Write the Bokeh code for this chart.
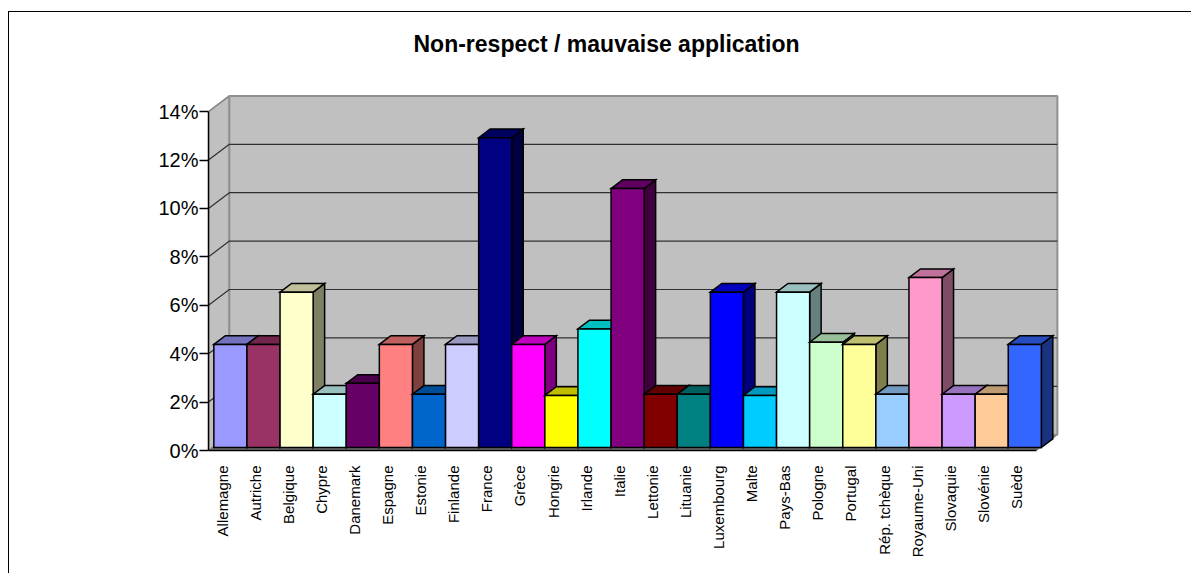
from math import pi
from bokeh.plotting import figure
from bokeh.models import FixedTicker, Range1d, Title
from bokeh.embed import file_html
from bokeh.resources import INLINE

title_text = "Non-respect / mauvaise application"
categories = ["Allemagne", "Autriche", "Belgique", "Chypre", "Danemark", "Espagne", "Estonie",
              "Finlande", "France", "Grèce", "Hongrie", "Irlande", "Italie", "Lettonie", "Lituanie",
              "Luxembourg", "Malte", "Pays-Bas", "Pologne", "Portugal", "Rép. tchèque",
              "Royaume-Uni", "Slovaquie", "Slovénie", "Suède"]
values = [4.26, 4.26, 6.42, 2.2, 2.65, 4.26, 2.2, 4.26, 12.8, 4.26, 2.15, 4.9, 10.7, 2.2, 2.2,
          6.42, 2.15, 6.42, 4.35, 4.26, 2.2, 7.02, 2.2, 2.2, 4.26]
palette = ["#9999FF", "#993366", "#FFFFCC", "#CCFFFF", "#660066", "#FF8080", "#0066CC", "#CCCCFF",
           "#000080", "#FF00FF", "#FFFF00", "#00FFFF", "#800080", "#800000", "#008080", "#0000FF",
           "#00CCFF", "#CCFFFF", "#CCFFCC", "#FFFF99", "#99CCFF", "#FF99CC", "#CC99FF", "#FFCC99",
           "#3366FF"]
y_ticks = [0, 2, 4, 6, 8, 10, 12, 14]
y_labels = ["0%", "2%", "4%", "6%", "8%", "10%", "12%", "14%"]

FONT = "Liberation Sans"
X0, X1 = -0.6616, 24.354      # floor front edge
WDX, WDY = 0.63, 0.653        # wall depth
BDX, BDY = 0.347, 0.36        # bar depth
BASE = 0.124                  # bar base above the floor front edge
HALF = 0.5


def shade(color, k):
    r, g, b = (int(color[i:i + 2], 16) for i in (1, 3, 5))
    return "#%02X%02X%02X" % (int(r * k), int(g * k), int(b * k))


p = figure(width=1183, height=562, output_backend="svg", toolbar_location=None,
           x_range=Range1d(X0, 29.036), y_range=Range1d(0, 16.198),
           min_border_left=199, min_border_right=0, min_border_top=46, min_border_bottom=124,
           frame_width=983, frame_height=392, background_fill_color="white",
           border_fill_color="white", outline_line_color=None,
           margin=(11, 0, 0, 8),
           styles={"border-left": "1px solid black", "border-top": "1px solid black"})
p.grid.visible = False

p.add_layout(Title(text=title_text, text_font=FONT, text_font_size="23px", text_font_style="bold",
                   text_color="black", align="left", offset=205, standoff=4), "above")

top = y_ticks[-1]
# floor, side wall and back wall
p.patch([X0, X1, X1 + WDX, X0 + WDX], [0, 0, WDY, WDY], fill_color="#707070", line_color="#707070", line_width=1)
p.patch([X0, X0 + WDX, X0 + WDX, X0], [0, WDY, top + WDY, top], fill_color="#C0C0C0", line_color="#808080", line_width=1.5)
p.patch([X0 + WDX, X1 + WDX, X1 + WDX, X0 + WDX], [WDY, WDY, top + WDY, top + WDY],
        fill_color="#C0C0C0", line_color="#909090", line_width=2)

# gridlines
for t in y_ticks[1:-1]:
    p.line([X0, X0 + WDX, X1 + WDX], [t, t + WDY, t + WDY], line_color="#303030", line_width=1.2)

# bars, each drawn over its left neighbour
xs, ys, fills = [], [], []
for i, (v, c) in enumerate(zip(values, palette)):
    l, r, b, h = i - HALF, i + HALF, BASE, BASE + v
    xs += [[r, r + BDX, r + BDX, r], [l, l + BDX, r + BDX, r], [l, r, r, l]]
    ys += [[b, b + BDY, h + BDY, h], [h, h + BDY, h + BDY, h], [b, b, h, h]]
    fills += [shade(c, 0.5), shade(c, 0.75), c]
p.patches(xs, ys, fill_color=fills, line_color="black", line_width=1.5, line_join="miter")

yaxis = p.yaxis[0]
yaxis.ticker = FixedTicker(ticks=y_ticks)
yaxis.major_label_overrides = dict(zip(y_ticks, y_labels))
yaxis.bounds = (0, top)
yaxis.axis_line_color = "black"
yaxis.axis_line_width = 1.5
yaxis.major_tick_line_color = "black"
yaxis.major_tick_line_width = 1.5
yaxis.major_tick_out = 9
yaxis.major_tick_in = 0
yaxis.minor_tick_line_color = None
yaxis.major_label_standoff = 1
yaxis.major_label_text_font = FONT
yaxis.major_label_text_font_size = "20px"
yaxis.major_label_text_color = "black"

# category labels sit under the middle of the front edge of the floor
label_shift = (X0 - (-HALF)) - 0.09
label_pos = [i + label_shift for i in range(len(categories))]
xaxis = p.xaxis[0]
xaxis.ticker = FixedTicker(ticks=label_pos)
xaxis.major_label_overrides = dict(zip(label_pos, categories))
xaxis.bounds = (X0, X1)
xaxis.axis_line_color = "black"
xaxis.axis_line_width = 1.5
xaxis.major_tick_line_color = None
xaxis.minor_tick_line_color = None
xaxis.major_tick_out = 0
xaxis.major_tick_in = 0
xaxis.major_label_orientation = pi / 2
xaxis.major_label_standoff = 15
xaxis.major_label_text_font = FONT
xaxis.major_label_text_font_size = "15px"
xaxis.major_label_text_color = "black"

open("out.html", "w").write(file_html(p, INLINE))
